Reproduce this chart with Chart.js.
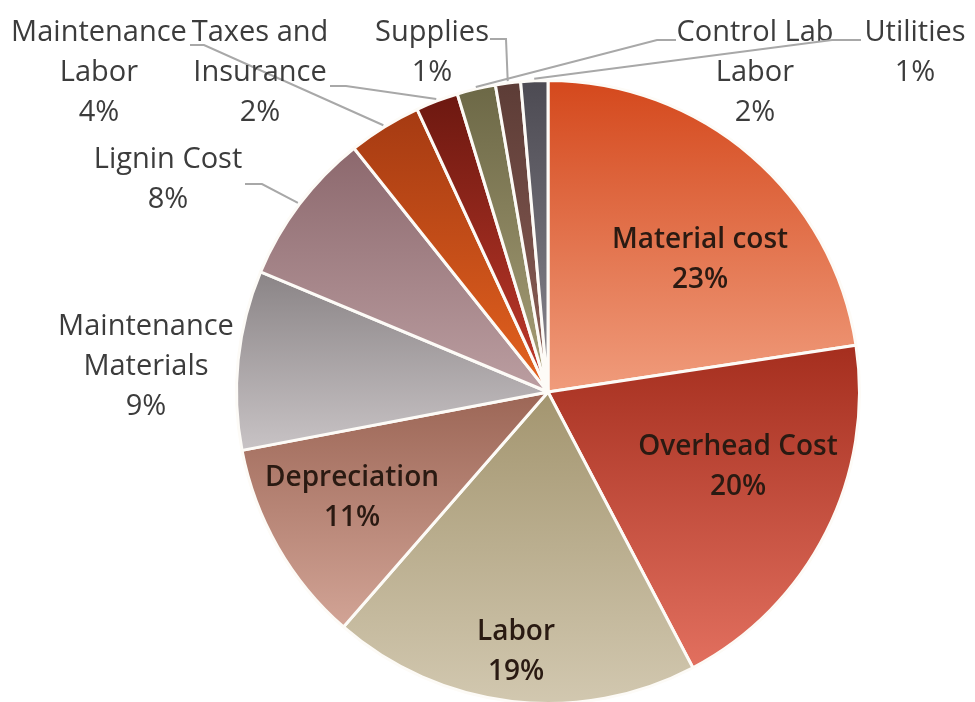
<!DOCTYPE html>
<html>
<head>
<meta charset="utf-8">
<script src="https://cdn.jsdelivr.net/npm/chart.js@4.4.1/dist/chart.umd.min.js"></script>
<style>
  html, body { margin: 0; padding: 0; background: #fff; overflow: hidden; }
  #wrap { position: absolute; left: 0; top: 0; width: 975px; height: 710px; }
</style>
</head>
<body>
<div id="wrap"><canvas id="pie" width="975" height="710"></canvas></div>
<script>
// ---- data (clockwise from 12 o'clock) ----
const categories = [
  ['Material cost'],
  ['Overhead Cost'],
  ['Labor'],
  ['Depreciation'],
  ['Maintenance', 'Materials'],
  ['Lignin Cost'],
  ['Maintenance', 'Labor'],
  ['Taxes and', 'Insurance'],
  ['Control Lab', 'Labor'],
  ['Supplies'],
  ['Utilities']
];
const shares = [22.6, 19.7, 19.1, 10.6, 9.3, 8.0, 3.8, 2.2, 2.0, 1.3, 1.4];

// ---- styles ----
const topColors    = ['#d4481c', '#a52e1e', '#a3956f', '#9c6656', '#8a8486', '#8c686d', '#a53a12', '#6c1810', '#6c6846', '#5c3c36', '#4c4a52'];
const bottomColors = ['#f09c7c', '#e2705f', '#d2c8b0', '#d2a496', '#c8c3c5', '#bb9ea1', '#e4621f', '#c23a2b', '#a89f78', '#8e6058', '#8a8890'];

// label anchors: centre x, first line y, inside slice or not, leader start points
const labelSpots = [
  { x: 700, y: 240, inside: true },
  { x: 738, y: 447, inside: true },
  { x: 516, y: 632, inside: true },
  { x: 352, y: 478, inside: true },
  { x: 146, y: 327 },
  { x: 168, y: 160, leader: [[245, 184], [262, 184]] },
  { x: 99,  y: 33,  leader: [[190, 45], [204, 45]] },
  { x: 260, y: 33,  leader: [[330, 86], [346, 86]] },
  { x: 755, y: 33,  leader: [[676, 40], [657, 40]] },
  { x: 432, y: 33,  leader: [[490, 39], [506, 39]] },
  { x: 915, y: 33,  leader: [[861, 40], [832, 40]] }
];
const lineGap = 40;

const total = shares.reduce((a, b) => a + b, 0);

function sliceGradient(ctx) {
  const i = ctx.dataIndex;
  const chart = ctx.chart;
  const area = chart.chartArea;
  if (!area || ctx.type !== 'data') return topColors[i];
  const cx = (area.left + area.right) / 2;
  const cy = (area.top + area.bottom) / 2;
  const r = Math.min(area.width, area.height) / 2;
  let before = 0;
  for (let k = 0; k < i; k++) before += shares[k];
  const a0 = -Math.PI / 2 + before / total * 2 * Math.PI;
  const a1 = a0 + shares[i] / total * 2 * Math.PI;
  const ys = [cy, cy + r * Math.sin(a0), cy + r * Math.sin(a1)];
  [Math.PI / 2, 3 * Math.PI / 2].forEach((a) => {
    if (a > a0 && a < a1) ys.push(cy + r * Math.sin(a));
  });
  const g = chart.ctx.createLinearGradient(0, Math.min(...ys), 0, Math.max(...ys));
  g.addColorStop(0, topColors[i]);
  g.addColorStop(1, bottomColors[i]);
  return g;
}

// draws the data labels and leader lines like the spreadsheet original
const sliceLabels = {
  id: 'sliceLabels',
  afterDatasetsDraw(chart) {
    const c = chart.ctx;
    const arcs = chart.getDatasetMeta(0).data;
    c.save();
    arcs.forEach((arc, i) => {
      const spot = labelSpots[i];
      if (spot.leader) {
        const mid = (arc.startAngle + arc.endAngle) / 2;
        const ex = arc.x + Math.cos(mid) * (arc.outerRadius + 2);
        const ey = arc.y + Math.sin(mid) * (arc.outerRadius + 2);
        c.beginPath();
        c.moveTo(spot.leader[0][0], spot.leader[0][1]);
        for (let k = 1; k < spot.leader.length; k++) c.lineTo(spot.leader[k][0], spot.leader[k][1]);
        c.lineTo(ex, ey);
        c.strokeStyle = '#a8a8a8';
        c.lineWidth = 2;
        c.stroke();
      }
      const pct = Math.round(shares[i] / total * 100) + '%';
      const lines = categories[i].concat([pct]);
      c.font = spot.inside ? '600 28px "Open Sans", sans-serif' : '29px "Open Sans", sans-serif';
      c.fillStyle = spot.inside ? '#2a1a12' : '#3c3c3c';
      c.textAlign = 'center';
      c.textBaseline = 'middle';
      lines.forEach((t, k) => c.fillText(t, spot.x, spot.y + k * lineGap));
    });
    c.restore();
  }
};

new Chart(document.getElementById('pie'), {
  type: 'pie',
  data: {
    labels: categories,
    datasets: [{
      data: shares,
      backgroundColor: sliceGradient,
      borderColor: '#fdfbf7',
      borderWidth: 3
    }]
  },
  options: {
    responsive: false,
    animation: false,
    events: [],
    layout: { padding: { top: 79, bottom: 5, left: 235, right: 114 } },
    plugins: {
      legend: { display: false },
      tooltip: { enabled: false }
    }
  },
  plugins: [sliceLabels]
});
</script>
</body>
</html>
